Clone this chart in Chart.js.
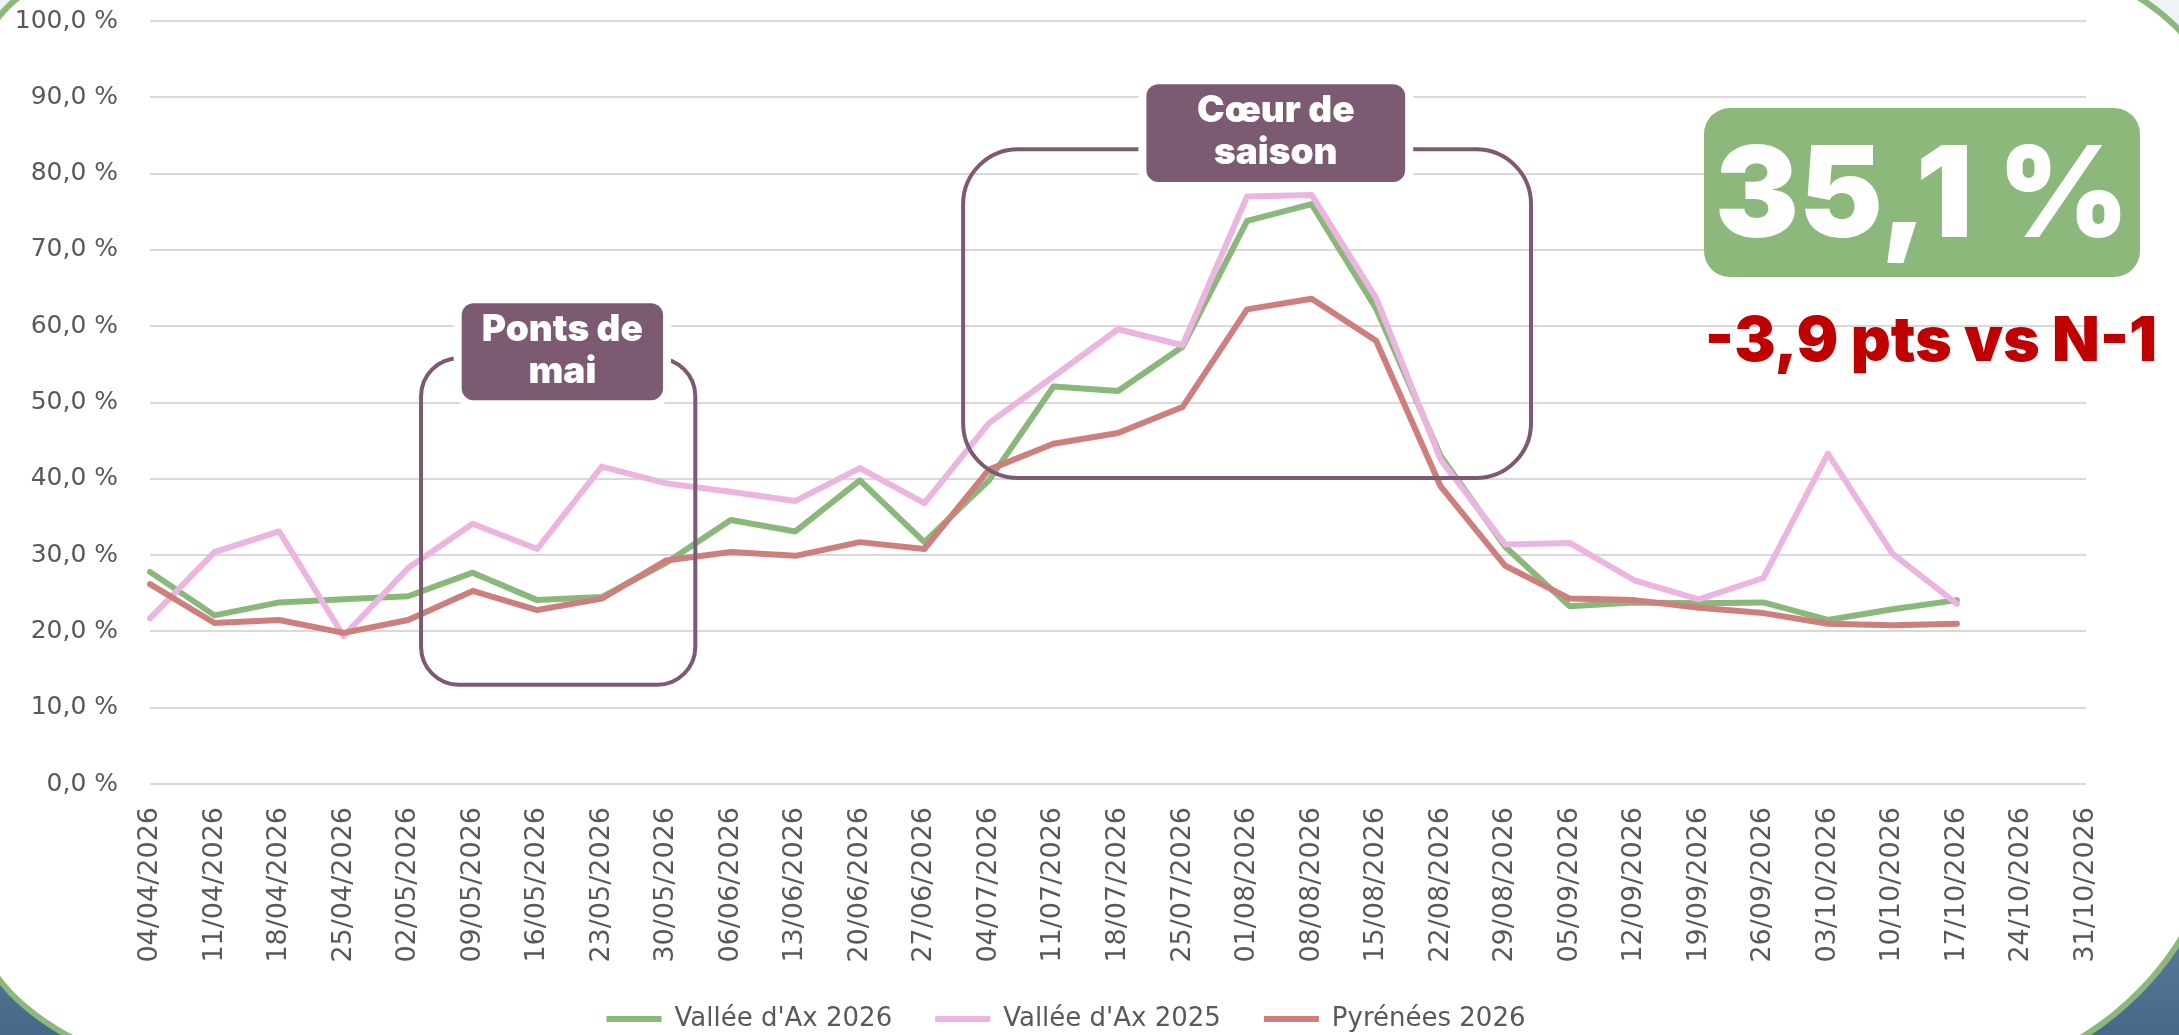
<!DOCTYPE html>
<html>
<head>
<meta charset="utf-8">
<title>Taux d'occupation - Vallée d'Ax</title>
<script src="https://cdn.jsdelivr.net/npm/chart.js@4.4.1/dist/chart.umd.min.js"></script>
<style>
  html, body { margin: 0; padding: 0; width: 2179px; height: 1035px; overflow: hidden; }
  body {
    position: relative;
    background: linear-gradient(to bottom, #eef3f6 0%, #e2eaef 45%, #6c8ca6 80%, #46698a 100%);
  }
  #card {
    position: absolute; left: -30px; top: -30px; width: 2260px; height: 1115px;
    box-sizing: border-box; background: #fff;
    border: 6px solid #8db87b;
    border-radius: 120px 182px 307px 300px / 120px 182px 307px 177px;
  }
  #chart { position: absolute; left: 0; top: 0; }
  #kpi {
    position: absolute; left: 1704px; top: 108px; width: 436px; height: 169px;
    background: #8db87b; border-radius: 26px;
  }
  #kpi span {
    position: absolute; left: 0; right: 0; top: 20px; text-align: center;
    font: 900 126px/1 Inter, Lato, sans-serif; color: #fff; white-space: nowrap;
  }
  #delta {
    position: absolute; left: 1681px; width: 500px; top: 308px; text-align: center;
    font: 900 62px/1 Inter, Lato, sans-serif; color: #c00000; white-space: nowrap;
  }
</style>
</head>
<body>
<div id="card"></div>
<canvas id="chart" width="2179" height="1035"></canvas>
<div id="kpi"><span>35,1 %</span></div>
<div id="delta">-3,9 pts vs N-1</div>
<script>
// semaines (samedi)
const weeks = [
  '04/04/2026', '11/04/2026', '18/04/2026', '25/04/2026', '02/05/2026', '09/05/2026',
  '16/05/2026', '23/05/2026', '30/05/2026', '06/06/2026', '13/06/2026', '20/06/2026',
  '27/06/2026', '04/07/2026', '11/07/2026', '18/07/2026', '25/07/2026', '01/08/2026',
  '08/08/2026', '15/08/2026', '22/08/2026', '29/08/2026', '05/09/2026', '12/09/2026',
  '19/09/2026', '26/09/2026', '03/10/2026', '10/10/2026', '17/10/2026', '24/10/2026',
  '31/10/2026'
];

// taux d'occupation en %
const valleeAx2026 = [27.8, 22.1, 23.8, 24.2, 24.6, 27.7, 24.1, 24.5, 29.0, 34.6, 33.1, 39.8,
  31.7, 39.8, 52.1, 51.5, 57.3, 73.8, 76.0, 62.3, 43.0, 31.1, 23.3, 23.8, 23.7, 23.8, 21.5,
  22.9, 24.1, null, null];
const valleeAx2025 = [21.7, 30.4, 33.1, 19.4, 28.3, 34.1, 30.8, 41.6, 39.4, 38.3, 37.1, 41.4,
  36.8, 47.3, 53.4, 59.6, 57.5, 77.0, 77.2, 63.7, 42.5, 31.4, 31.6, 26.7, 24.2, 27.0, 43.3,
  30.2, 23.6, null, null];
const pyrenees2026 = [26.2, 21.1, 21.5, 19.8, 21.5, 25.3, 22.8, 24.3, 29.3, 30.4, 29.9, 31.7,
  30.8, 41.2, 44.6, 46.0, 49.4, 62.2, 63.6, 58.1, 39.0, 28.6, 24.3, 24.1, 23.1, 22.4, 21.0,
  20.8, 21.0, null, null];

const seriesNames = ["Vallée d'Ax 2026", "Vallée d'Ax 2025", 'Pyrénées 2026'];
const seriesColors = ['#8ab87b', '#ecb5df', '#cd7f7e'];

// zones commentées (en unités des axes : index de semaine, %)
const zones = [
  { text: ['Ponts de', 'mai'], box: [4.2, 8.45, 13.0, 55.8], r: 38, label: [4.83, 7.95, 50.3, 63.0] },
  { text: ['Cœur de', 'saison'], box: [12.6, 21.4, 40.1, 83.2], r: 55, label: [15.44, 19.45, 78.9, 91.7] }
];

const purple = '#7b5a72';

const zonePlugin = {
  id: 'zones',
  afterDatasetsDraw(chart) {
    const ctx = chart.ctx, xs = chart.scales.x, ys = chart.scales.y;
    ctx.save();
    for (const z of zones) {
      const x0 = xs.getPixelForValue(z.box[0]), x1 = xs.getPixelForValue(z.box[1]);
      const y0 = ys.getPixelForValue(z.box[3]), y1 = ys.getPixelForValue(z.box[2]);
      ctx.beginPath();
      ctx.roundRect(x0, y0, x1 - x0, y1 - y0, z.r);
      ctx.lineWidth = 4;
      ctx.strokeStyle = purple;
      ctx.stroke();

      const lx0 = xs.getPixelForValue(z.label[0]), lx1 = xs.getPixelForValue(z.label[1]);
      const ly0 = ys.getPixelForValue(z.label[3]), ly1 = ys.getPixelForValue(z.label[2]);
      ctx.beginPath();
      ctx.roundRect(lx0, ly0, lx1 - lx0, ly1 - ly0, 12);
      ctx.lineWidth = 16;
      ctx.strokeStyle = '#fff';
      ctx.stroke();
      ctx.fillStyle = purple;
      ctx.fill();

      const cx = (lx0 + lx1) / 2, cy = (ly0 + ly1) / 2;
      ctx.fillStyle = '#fff';
      ctx.font = '900 37px Inter, Lato, sans-serif';
      ctx.textAlign = 'center';
      ctx.textBaseline = 'alphabetic';
      ctx.fillText(z.text[0], cx, cy - 11);
      ctx.fillText(z.text[1], cx, cy + 31);
    }
    ctx.restore();
  }
};

const series = [valleeAx2026, valleeAx2025, pyrenees2026];
const sets = series.map((vals, i) => ({
  label: seriesNames[i],
  data: vals,
  borderColor: seriesColors[i],
  backgroundColor: seriesColors[i],
  borderWidth: 6,
  pointRadius: 0,
  tension: 0,
  fill: false,
  borderJoinStyle: 'round',
  borderCapStyle: 'round',
  order: 2 - i
}));

const tickColor = '#595959';

new Chart(document.getElementById('chart'), {
  type: 'line',
  data: { labels: weeks, datasets: sets },
  plugins: [zonePlugin],
  options: {
    responsive: false,
    animation: false,
    layout: { padding: { left: 0, right: 47, top: 21, bottom: -7 } },
    plugins: {
      tooltip: { enabled: false },
      legend: {
        position: 'bottom',
        labels: {
          color: tickColor,
          font: { family: 'DejaVu Sans', size: 26 },
          boxWidth: 55,
          boxHeight: 6,
          padding: 43,
          sort: (a, b) => a.datasetIndex - b.datasetIndex,
          generateLabels: chart => Chart.defaults.plugins.legend.labels.generateLabels(chart)
            .map(l => Object.assign(l, { lineWidth: 0, fillStyle: l.strokeStyle }))
        }
      }
    },
    scales: {
      x: {
        offset: false,
        grid: { display: false },
        border: { display: false },
        ticks: {
          autoSkip: false, minRotation: 90, maxRotation: 90, padding: 15,
          color: tickColor, font: { family: 'DejaVu Sans', size: 27 }
        },
        afterFit: s => { s.height = 179; }
      },
      y: {
        min: 0, max: 100,
        grid: { color: '#d9d9d9', lineWidth: 2, drawTicks: true, tickLength: 28, tickColor: 'rgba(0,0,0,0)' },
        border: { display: false },
        ticks: {
          stepSize: 10, padding: 4, color: tickColor,
          font: { family: 'DejaVu Sans', size: 25 },
          callback: v => v.toFixed(1).replace('.', ',') + ' %'
        },
        afterFit: s => { s.width = 150; }
      },
      // marge à droite pour centrer la légende comme l'original
      yRight: {
        position: 'right',
        grid: { display: false },
        border: { display: false },
        ticks: { display: false },
        afterFit: s => { s.width = 46; }
      }
    }
  }
});
</script>
</body>
</html>
